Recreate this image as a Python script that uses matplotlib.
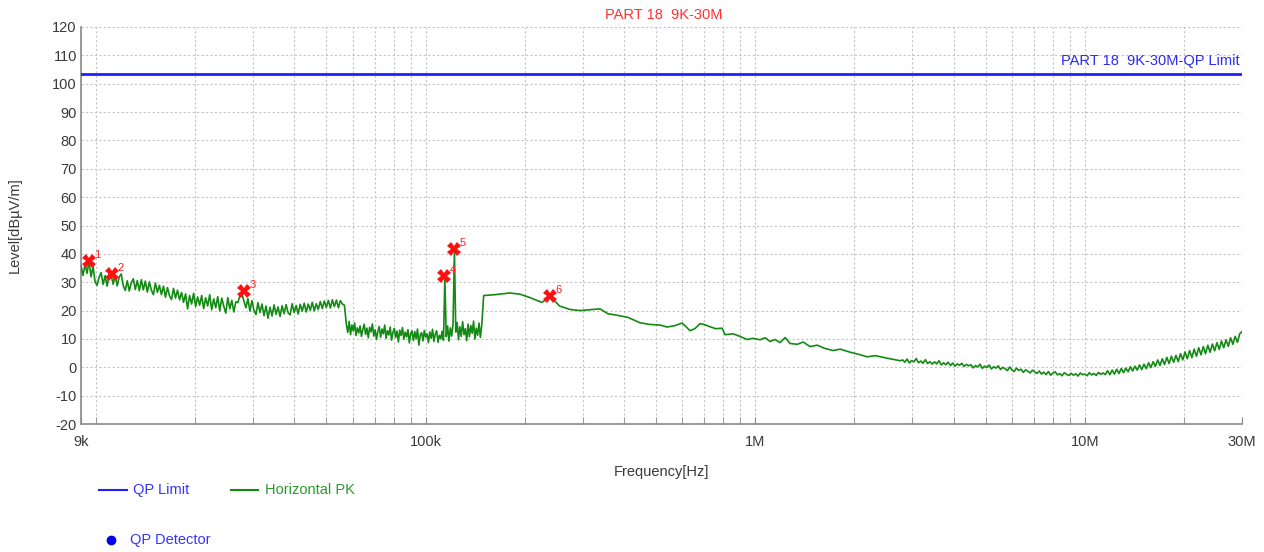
import numpy as np
import matplotlib.pyplot as plt
from matplotlib.lines import Line2D
from matplotlib.ticker import FixedLocator, NullFormatter

# ---- data ----
# sweep 1: 9k .. 56.7k (log spaced receiver steps)
seg_a_range = (9.0e3, 56.7e3)
seg_a_level = [
    35.8, 32.4, 36.3, 33.1, 37.4, 31.9, 35.6, 30.1, 28.9, 31.7,
    33.4, 29.2, 32.3, 28.6, 33.0, 32.5, 29.3, 32.6, 28.7, 31.9,
    32.9, 28.8, 27.1, 30.5, 26.9, 29.8, 31.2, 27.4, 30.6, 27.0,
    30.9, 27.3, 30.4, 26.5, 30.1, 27.2, 25.6, 29.7, 26.4, 28.9,
    25.6, 28.6, 24.7, 28.1, 25.2, 23.9, 27.8, 24.4, 27.2, 23.8,
    26.4, 22.9, 25.9, 20.6, 25.3, 22.3, 26.1, 21.4, 24.8, 21.9,
    25.3, 20.7, 24.5, 21.6, 25.6, 20.3, 24.1, 21.0, 24.9, 19.9,
    24.4, 21.5, 19.1, 24.6, 20.6, 23.6, 19.5, 23.1, 22.8, 25.2,
    26.0, 23.4, 21.0, 24.2, 19.8, 23.5, 20.1, 18.6, 22.8, 19.3,
    22.3, 18.2, 21.6, 17.3, 21.2, 18.1, 22.0, 18.7, 21.3, 17.9,
    21.7, 18.9, 22.1, 19.2, 18.5, 22.4, 19.3, 21.8, 18.8, 22.2,
    19.8, 22.6, 19.5, 22.3, 20.1, 22.9, 19.9, 22.4, 20.4, 23.2,
    20.7, 23.4, 21.1, 23.6, 20.9, 23.8, 21.4, 23.7, 21.0, 23.5,
    22.3, 21.9,
]

# sweep 2: 57.5k .. 148k
seg_b_range = (57.5e3, 148.0e3)
seg_b_level = [
    14.8, 12.3, 16.2, 11.5, 14.9, 12.8, 15.6, 11.2, 13.9, 12.1,
    14.6, 10.9, 13.4, 15.2, 11.6, 13.8, 10.4, 14.1, 12.5, 15.3,
    11.0, 13.2, 9.8, 12.7, 14.4, 10.6, 13.5, 11.8, 14.9, 10.2,
    12.9, 11.4, 14.2, 9.6, 12.3, 13.7, 10.5, 12.8, 8.9, 13.1,
    11.2, 14.0, 9.9, 12.4, 10.7, 13.3, 8.6, 11.9, 12.8, 9.4,
    12.6, 10.1, 13.5, 7.8, 11.4, 12.2, 9.3, 13.0, 10.6, 11.8,
    8.7, 12.5, 10.2, 13.4, 9.1, 11.7, 12.9, 8.8, 11.3, 10.0,
    12.7, 9.5, 31.5, 10.8, 14.6, 9.2, 13.9, 11.0, 15.4, 41.0,
    12.4, 15.8, 9.7, 14.3, 10.9, 16.1, 11.5, 13.6, 9.4, 15.2,
    10.8, 14.7, 12.0, 16.3, 9.9, 13.8, 11.3, 15.6, 10.5, 14.9,
]

# sweep 3: 150k .. 2.76M (smooth part)
seg_c_freq = [
    150e3, 162e3, 180e3, 193e3, 207e3, 225e3, 235e3, 241e3, 255e3, 274e3,
    294e3, 315e3, 338e3, 357e3, 383e3, 411e3, 447e3, 479e3, 514e3, 540e3,
    571e3, 600e3, 617e3, 634e3, 656e3, 680e3, 704e3, 729e3, 760e3, 793e3,
    810e3, 856e3, 899e3, 945e3, 985e3, 1.035e6, 1.072e6, 1.11e6, 1.149e6, 1.19e6,
    1.233e6, 1.276e6, 1.341e6, 1.398e6, 1.468e6, 1.542e6, 1.631e6, 1.725e6, 1.811e6, 1.943e6,
    2.055e6, 2.188e6, 2.314e6, 2.517e6, 2.756e6,
]
seg_c_level = [
    25.3, 25.6, 26.2, 25.8, 24.6, 22.9, 24.2, 24.6, 21.6, 20.4,
    20.0, 20.3, 20.6, 18.9, 18.3, 17.6, 15.7, 15.1, 14.9, 14.2,
    14.7, 15.6, 14.3, 12.9, 13.6, 15.4, 15.0, 14.3, 13.6, 13.8,
    11.5, 11.8, 10.9, 9.8, 10.2, 9.7, 10.4, 9.1, 9.8, 8.7,
    10.5, 8.4, 8.1, 8.9, 7.3, 7.8, 6.6, 5.9, 6.4, 5.3,
    4.6, 3.7, 4.1, 3.2, 2.3,
]

# sweep 4: 2.8M .. 30M
seg_d_range = (2.8e6, 30.0e6)
seg_d_level = [
    2.6, 1.8, 2.9, 1.5, 2.4, 1.9, 3.1, 1.6, 2.2, 1.4, 2.7, 1.3, 2.0, 1.1, 1.9,
    1.2, 2.3, 0.8, 1.6, 0.9, 1.8, 0.6, 1.5, 0.4, 1.2, 0.7, 1.4, 0.3, 1.0, 0.5,
    0.9, -0.2, 0.6, 0.1, 1.1, -0.4, 0.4, -0.1, 0.8, -0.6, 0.2, -0.3, 0.5, -0.8, 0.0,
    -0.5, -1.2, 0.1, -0.9, -1.5, -0.3, -1.1, -0.7, -1.8, -0.9, -1.4, -2.0, -1.0, -1.6, -2.2,
    -1.3, -2.4, -1.7, -2.6, -1.5, -2.8, -2.0, -1.6, -2.7, -2.2, -3.0, -1.9, -2.5, -2.9, -2.1,
    -2.8, -2.3, -3.1, -2.0, -2.6, -2.4, -3.0, -1.9, -2.7, -2.2, -2.9, -1.8, -2.5, -2.0, -2.6,
    -1.2, -2.6, -1.0, -2.4, -0.7, -2.2, -0.4, -1.9, -0.3, -1.6, 0.2, -1.3, 0.4, -1.0, 0.8,
    -0.8, 1.1, -0.5, 1.6, -0.1, 2.0, 0.3, 2.6, 0.6, 3.0, 1.0, 3.5, 1.3, 3.9, 1.8,
    4.2, 2.0, 4.8, 2.6, 5.4, 3.0, 5.9, 3.4, 6.4, 3.9, 6.9, 4.4, 7.3, 4.8, 7.8,
    5.3, 8.2, 5.8, 8.7, 6.3, 9.3, 6.9, 9.7, 7.4, 10.4, 8.1, 10.9, 8.8, 11.8, 12.6,
]

limit_freq = [9.0e3, 30.0e6]
limit_level = [103.5, 103.5]

peak_freq = [9.5e3, 11.2e3, 28.2e3, 114e3, 122e3, 238e3]
peak_level = [37.5, 32.9, 26.9, 32.2, 41.7, 25.1]
peak_label = ['1', '2', '3', '4', '5', '6']

xtick_pos = [9e3, 1e5, 1e6, 1e7, 3e7]
xtick_lab = ['9k', '100k', '1M', '10M', '30M']

# ---- build trace ----
freq = np.concatenate([
    np.geomspace(*seg_a_range, len(seg_a_level)),
    np.geomspace(*seg_b_range, len(seg_b_level)),
    np.array(seg_c_freq),
    np.geomspace(*seg_d_range, len(seg_d_level)),
])
level = np.concatenate([seg_a_level, seg_b_level, seg_c_level, seg_d_level])

plt.rcParams['font.family'] = ['Liberation Sans', 'DejaVu Sans']
plt.rcParams['font.size'] = 10.5
plt.rcParams['axes.unicode_minus'] = False

W, H = 1264, 552
fig = plt.figure(figsize=(W / 100, H / 100), dpi=100)
ax = fig.add_axes([81 / W, 1 - 424 / H, (1242 - 81) / W, (424 - 27) / H])

ax.plot(limit_freq, limit_level, color='#1f1fff', lw=2, zorder=3)
ax.plot(freq, level, color='#138a13', lw=1.2, zorder=3)
ax.plot(peak_freq, peak_level, 'X', color='#ff1010', ms=10, mew=0, zorder=4)
for f, l, t in zip(peak_freq, peak_level, peak_label):
    ax.annotate(t, (f, l), xytext=(4, 1), textcoords='offset points',
                color='#ff2020', fontsize=8, ha='left', va='bottom')

ax.annotate('PART 18  9K-30M-QP Limit', (limit_freq[-1], limit_level[-1]),
            xytext=(-2, 4), textcoords='offset points',
            color='#2a2aff', ha='right', va='bottom')

ax.set_xscale('log')
ax.set_xlim(9e3, 3e7)
ax.set_ylim(-20, 120)
ax.set_yticks(range(-20, 121, 10))
ax.xaxis.set_major_locator(FixedLocator(xtick_pos))
ax.set_xticklabels(xtick_lab)
minors = [m * 10 ** e for e in range(3, 8) for m in range(1, 10)]
minors = [v for v in minors if 9e3 < v < 3e7 and v not in xtick_pos]
ax.xaxis.set_minor_locator(FixedLocator(minors))
ax.xaxis.set_minor_formatter(NullFormatter())

ax.grid(which='both', color='#c4c4c4', linestyle=(0, (2, 2)), linewidth=0.8)
ax.set_axisbelow(True)
for s in ['top', 'right']:
    ax.spines[s].set_visible(False)
for s in ['left', 'bottom']:
    ax.spines[s].set_color('#8a8a8a')
    ax.spines[s].set_linewidth(1.2)
ax.tick_params(axis='x', which='both', direction='in', length=5, color='#8a8a8a',
               labelcolor='#3a3a3a', pad=8)
ax.tick_params(axis='y', length=0, labelcolor='#3a3a3a', pad=3)

fig.text(664 / W, 1 - 15 / H, 'PART 18  9K-30M', color='#ff3030', ha='center', va='center')
fig.text(15 / W, 1 - 225 / H, 'Level[dBµV/m]', rotation=90, color='#3a3a3a',
         ha='center', va='center')
fig.text(661 / W, 1 - 472 / H, 'Frequency[Hz]', color='#3a3a3a', ha='center', va='center')

# legend drawn under the plot
y1 = 1 - 490 / H
y2 = 1 - 540 / H
fig.add_artist(Line2D([99 / W, 127 / W], [y1, y1], color='#2020ff', lw=1.5))
fig.text(133 / W, y1, 'QP Limit', color='#3434ff', va='center')
fig.add_artist(Line2D([231 / W, 258 / W], [y1, y1], color='#138a13', lw=1.5))
fig.text(265 / W, y1, 'Horizontal PK', color='#2e9a2e', va='center')
fig.add_artist(Line2D([111 / W], [y2], marker='o', color='#0000ee', ms=6, lw=0))
fig.text(130 / W, y2, 'QP Detector', color='#3434ff', va='center')

fig.savefig('out.png', dpi=100)
